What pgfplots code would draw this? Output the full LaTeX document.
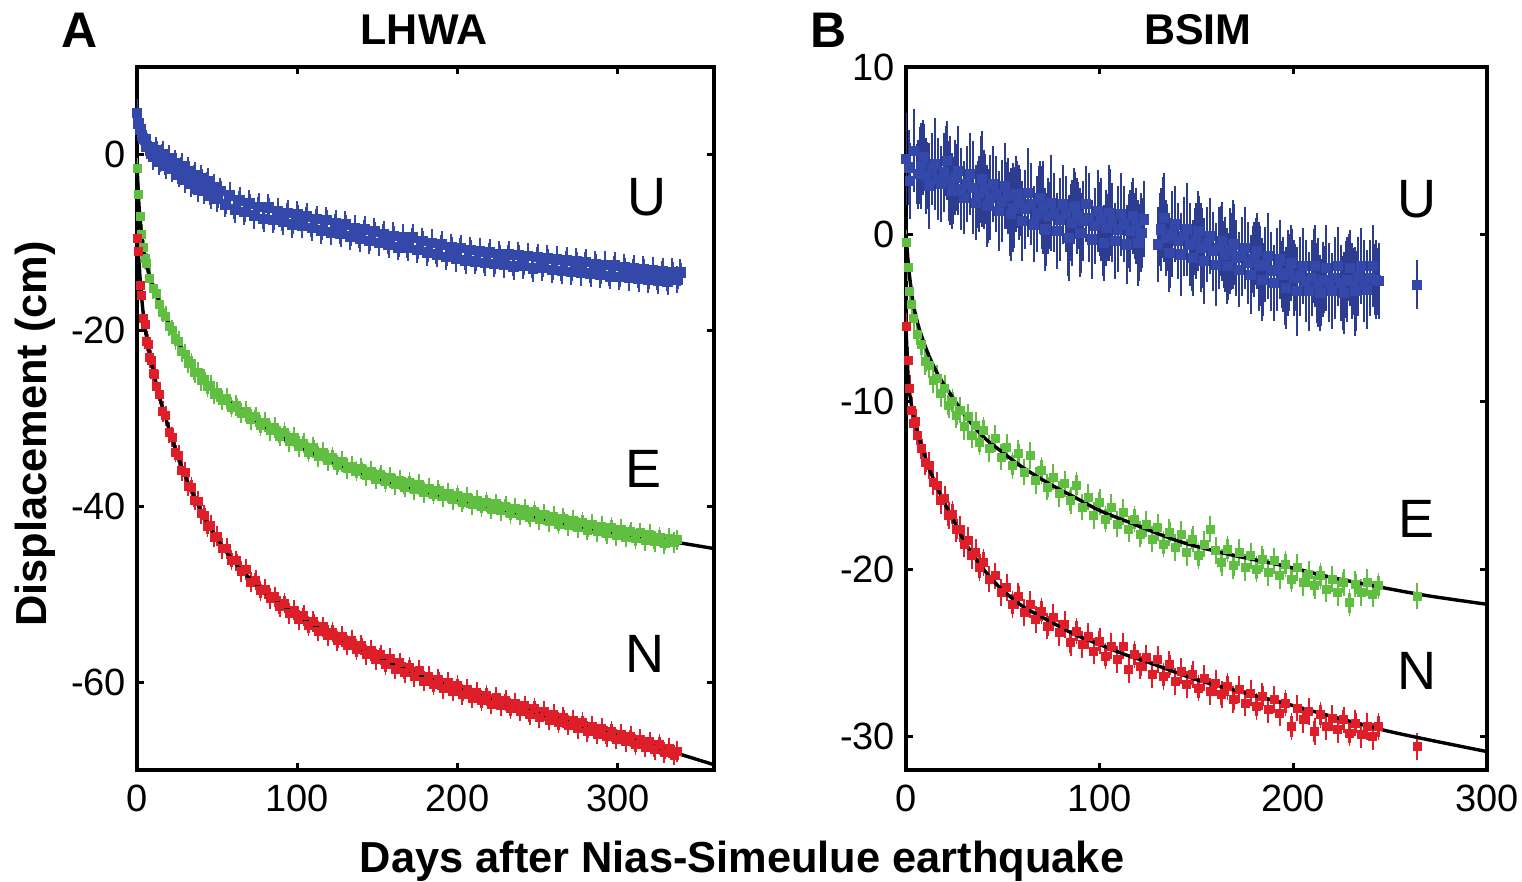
\documentclass[border=0pt]{standalone}
\usepackage{fontspec}
\setmainfont{Liberation Sans}
\usepackage{pgfplots}
\pgfplotsset{compat=1.18}
\usepackage{pgfplotstable}

\definecolor{cU}{RGB}{52,72,170}
\definecolor{cE}{RGB}{96,190,64}
\definecolor{cN}{RGB}{222,30,40}

\pgfplotstableread{
x y
0 4.8
1 3.6
2 2.9
3 2.2
4 1.8
6 1.0
8 0.9
10 -0.2
12 0.5
14 -0.8
16 0.1
18 -1.2
20 -0.4
22 -1.6
24 -0.9
26 -2.2
28 -1.3
30 -2.8
32 -1.8
34 -3.3
36 -2.3
38 -3.9
40 -2.7
42 -4.1
44 -3.0
46 -4.6
48 -3.7
50 -5.0
52 -4.1
55 -5.6
58 -4.6
61 -6.2
64 -5.2
67 -6.5
70 -5.5
73 -6.9
76 -5.9
79 -7.3
82 -6.0
85 -7.4
88 -6.4
91 -7.6
94 -6.6
97 -7.9
100 -6.8
103 -8.0
106 -7.0
109 -8.3
112 -7.3
115 -8.6
118 -7.4
121 -8.8
124 -7.8
127 -9.0
130 -7.9
133 -9.3
136 -8.3
139 -9.5
142 -8.5
145 -9.8
148 -8.7
151 -10.0
154 -9.0
157 -10.2
160 -9.2
163 -10.5
166 -9.4
169 -10.6
172 -9.4
175 -10.8
178 -9.8
181 -11.1
184 -10.0
187 -11.3
190 -10.2
193 -11.6
196 -10.5
199 -11.8
202 -10.6
205 -12.0
208 -10.8
211 -12.1
214 -11.0
217 -12.3
220 -11.1
223 -12.4
226 -11.3
229 -12.5
232 -11.3
235 -12.7
238 -11.4
241 -12.6
244 -11.5
247 -12.9
250 -11.6
253 -12.8
256 -11.8
259 -13.1
262 -11.9
265 -13.2
268 -12.0
271 -13.3
274 -12.1
277 -13.4
280 -12.2
283 -13.5
286 -12.4
289 -13.6
292 -12.5
295 -13.8
298 -12.6
301 -13.9
304 -12.8
307 -14.0
310 -12.9
313 -14.1
316 -13.0
319 -14.2
322 -13.1
325 -14.3
328 -13.2
331 -14.4
334 -13.3
337 -14.2
339 -13.4
}\tabAU

\pgfplotstableread{
x y
0 -1.5
1 -4.5
2 -7.0
3 -9.0
4 -10.5
5 -11.8
6 -12.3
8 -14.0
10 -15.2
12 -15.8
14 -17.0
16 -17.9
18 -18.4
20 -19.5
22 -20.0
24 -21.0
26 -21.2
28 -22.4
30 -22.7
32 -23.7
34 -23.7
36 -24.8
38 -24.7
40 -25.7
42 -25.5
44 -26.4
46 -26.2
48 -27.2
50 -27.0
53 -27.9
56 -27.7
59 -28.7
62 -28.5
65 -29.4
68 -29.2
71 -30.1
74 -29.8
77 -30.8
80 -30.4
83 -31.4
86 -31.0
89 -32.0
92 -31.6
95 -32.6
98 -32.1
101 -33.2
104 -32.8
107 -33.8
110 -33.3
113 -34.3
116 -33.8
119 -34.8
122 -34.4
125 -35.3
128 -34.9
131 -35.7
134 -35.4
137 -36.0
140 -35.7
143 -36.5
146 -36.0
149 -36.9
152 -36.4
155 -37.2
158 -36.7
161 -37.5
164 -37.0
167 -37.8
170 -37.3
173 -38.1
176 -37.5
179 -38.4
182 -37.9
185 -38.6
188 -38.2
191 -38.9
194 -38.5
197 -39.2
200 -38.7
203 -39.5
206 -39.0
209 -39.8
212 -39.3
215 -40.0
218 -39.5
221 -40.3
224 -39.7
227 -40.5
230 -40.0
233 -40.8
236 -40.2
239 -41.0
242 -40.3
245 -41.2
248 -40.6
251 -41.5
254 -40.9
257 -41.7
260 -41.1
263 -42.0
266 -41.4
269 -42.2
272 -41.6
275 -42.4
278 -41.8
281 -42.7
284 -42.0
287 -42.9
290 -42.3
293 -43.1
296 -42.4
299 -43.3
302 -42.6
305 -43.5
308 -42.9
311 -43.7
314 -43.0
317 -43.9
320 -43.2
323 -44.0
326 -43.5
329 -44.2
332 -43.6
335 -44.1
337 -43.8
}\tabAE

\pgfplotstableread{
x y
0 -9.5
1 -11.0
2 -14.8
3 -16.0
4 -18.6
5 -19.3
6 -21.2
7 -21.6
8 -23.1
9 -23.4
10 -24.9
11 -25.0
12 -26.4
14 -27.2
16 -29.2
18 -29.7
20 -31.6
22 -32.1
24 -33.8
26 -34.2
28 -35.9
30 -36.1
32 -37.7
34 -37.8
36 -39.3
38 -39.4
40 -40.8
42 -41.0
44 -42.3
46 -42.2
48 -43.5
50 -43.4
53 -44.8
56 -44.8
59 -46.1
62 -46.2
65 -47.4
68 -47.2
71 -48.6
74 -48.4
77 -49.6
80 -49.4
83 -50.5
86 -50.3
89 -51.4
92 -51.0
95 -52.2
98 -51.8
101 -52.9
104 -52.4
107 -53.6
110 -53.1
113 -54.2
116 -53.7
119 -54.7
122 -54.3
125 -55.3
128 -54.8
131 -55.8
134 -55.2
137 -56.3
140 -55.8
143 -56.9
146 -56.4
149 -57.4
152 -56.9
155 -58.0
158 -57.3
161 -58.5
164 -57.8
167 -58.9
170 -58.3
173 -59.4
176 -58.7
179 -59.9
182 -59.3
185 -60.3
188 -59.7
191 -60.7
194 -60.0
197 -61.0
200 -60.4
203 -61.4
206 -60.8
209 -61.8
212 -61.2
215 -62.1
218 -61.5
221 -62.5
224 -61.7
227 -62.7
230 -62.1
233 -63.0
236 -62.4
239 -63.3
242 -62.7
245 -63.7
248 -63.0
251 -64.0
254 -63.3
257 -64.3
260 -63.7
263 -64.6
266 -64.0
269 -64.9
272 -64.3
275 -65.3
278 -64.6
281 -65.6
284 -65.0
287 -65.9
290 -65.3
293 -66.2
296 -65.6
299 -66.5
302 -65.9
305 -66.8
308 -66.2
311 -67.1
314 -66.5
317 -67.4
320 -66.8
323 -67.7
326 -67.1
329 -68.0
332 -67.5
335 -68.3
337 -67.9
}\tabAN

\pgfplotstableread{
x y e
0 4.5 2.5
2 3.2 2.0
4 5.0 2.2
6 3.6 1.8
9 4.6 2.0
12 2.9 2.3
15 4.2 2.5
18 3.0 2.0
21 4.4 2.1
24 2.6 2.0
27 3.8 2.4
30 2.2 1.9
33 3.6 2.2
36 1.9 2.0
39 3.3 2.6
42 1.7 2.2
45 3.0 2.0
48 1.4 2.1
51 2.9 2.3
54 1.2 2.5
57 2.4 2.0
60 0.8 2.1
63 2.5 2.4
66 0.6 2.0
69 2.2 1.9
72 0.3 2.2
75 1.9 2.6
78 0.2 2.0
81 1.8 2.1
84 -0.2 2.3
87 1.7 2.0
90 0.1 2.4
93 1.8 2.0
96 -0.3 2.1
99 1.4 2.2
102 -0.5 2.0
105 1.3 2.6
108 -0.4 2.0
111 1.2 2.2
114 -0.6 2.1
117 1.1 2.0
120 -0.5 2.3
123 0.9 2.0
130 -0.6 2.0
133 1.0 2.4
136 -1.1 2.1
139 0.6 2.0
142 -1.2 2.2
145 0.3 2.5
148 -1.4 2.0
151 0.2 2.1
154 -1.6 2.3
157 -0.1 2.0
160 -1.8 2.2
163 -0.4 2.1
166 -1.9 2.0
169 -0.6 2.4
172 -2.1 2.0
175 -0.8 2.2
178 -2.4 2.1
181 -1.0 2.0
184 -2.7 2.2
187 -1.3 2.3
190 -2.9 2.0
193 -1.5 2.1
196 -3.2 2.2
199 -1.7 2.0
202 -3.4 2.4
205 -1.9 2.0
208 -3.4 2.1
211 -1.9 2.2
214 -3.5 2.0
217 -2.0 2.3
220 -3.4 2.0
223 -1.9 2.1
226 -3.5 2.2
229 -2.0 2.0
232 -3.4 2.4
235 -1.9 2.0
238 -3.3 2.1
241 -1.9 2.2
244 -2.8 2.0
264 -3.0 1.2
1.5 4.0 2.0
7.5 4.1 2.3
10.5 3.5 2.0
13.5 3.9 1.9
16.5 3.3 2.2
19.5 3.7 2.1
22.5 3.2 2.4
25.5 3.4 2.0
28.5 2.7 2.2
31.5 3.0 2.0
34.5 2.8 2.5
37.5 2.4 2.0
40.5 2.7 2.1
43.5 2.2 2.3
46.5 2.4 2.0
49.5 2.0 2.2
52.5 2.3 2.0
55.5 1.6 2.4
58.5 1.9 2.0
61.5 1.5 2.1
64.5 1.8 2.2
67.5 1.2 2.0
70.5 1.6 2.5
73.5 1.1 2.0
76.5 1.3 2.1
79.5 0.9 2.2
82.5 1.2 2.0
85.5 0.7 2.3
88.5 1.1 2.0
91.5 0.8 2.1
94.5 1.0 2.4
97.5 0.5 2.0
100.5 0.9 2.2
103.5 0.4 2.0
106.5 0.7 2.1
109.5 0.3 2.3
112.5 0.6 2.0
115.5 0.2 2.2
118.5 0.5 2.0
121.5 0.1 2.1
131.5 0.3 2.2
134.5 -0.2 2.0
137.5 0.0 2.3
140.5 -0.4 2.0
143.5 -0.1 2.1
146.5 -0.6 2.2
149.5 -0.4 2.0
152.5 -0.8 2.4
155.5 -0.6 2.0
158.5 -1.0 2.1
161.5 -0.8 2.2
164.5 -1.2 2.0
167.5 -1.0 2.3
170.5 -1.4 2.0
173.5 -1.3 2.1
176.5 -1.7 2.2
179.5 -1.5 2.0
182.5 -1.9 2.4
185.5 -1.8 2.0
188.5 -2.2 2.1
191.5 -2.1 2.2
194.5 -2.4 2.0
197.5 -2.3 2.3
200.5 -2.6 2.0
203.5 -2.5 2.1
206.5 -2.8 2.2
209.5 -2.6 2.0
212.5 -2.9 2.4
215.5 -2.7 2.0
218.5 -2.9 2.1
221.5 -2.6 2.2
224.5 -2.9 2.0
227.5 -2.7 2.3
230.5 -2.8 2.0
233.5 -2.5 2.1
236.5 -2.8 2.2
239.5 -2.6 2.0
242.5 -2.7 2.1
}\tabBU

\pgfplotstableread{
x y
0 -0.5
1 -2.0
2 -3.4
3 -4.2
4 -5.0
6 -6.0
8 -6.6
10 -7.6
12 -7.8
14 -8.7
16 -8.6
18 -9.5
20 -9.2
22 -10.2
24 -10.0
26 -10.8
28 -10.5
30 -11.5
32 -10.9
34 -12.0
36 -11.4
38 -12.4
40 -11.7
43 -12.8
46 -12.2
49 -13.3
52 -12.7
55 -13.8
58 -13.1
61 -14.2
64 -13.2
67 -14.7
70 -14.1
73 -15.1
76 -14.5
79 -15.5
82 -14.9
85 -15.9
88 -15.0
91 -16.3
94 -15.7
97 -16.8
100 -16.0
103 -17.0
106 -16.3
109 -17.3
112 -16.6
115 -17.6
118 -17.0
121 -17.9
124 -17.3
127 -18.2
130 -17.5
133 -18.5
136 -17.8
139 -18.7
142 -17.9
145 -19.0
148 -18.2
151 -19.2
154 -18.5
157 -17.6
160 -18.9
163 -19.6
166 -18.8
169 -19.8
172 -19.0
175 -19.9
178 -19.2
181 -20.0
184 -19.4
187 -20.2
190 -19.5
193 -20.4
196 -19.7
199 -20.6
202 -19.9
205 -20.8
208 -20.3
211 -21.0
214 -20.4
217 -21.2
220 -20.6
223 -21.4
226 -20.8
229 -22.0
232 -20.9
235 -21.4
238 -20.8
241 -21.5
244 -21.0
264 -21.6
}\tabBE

\pgfplotstableread{
x y
0 -5.5
1 -7.5
2 -9.2
3 -10.5
4 -11.3
5 -11.2
6 -12.0
8 -12.8
10 -13.6
12 -13.8
14 -14.8
16 -15.0
18 -15.9
20 -15.8
22 -16.8
24 -16.7
26 -17.6
28 -17.6
30 -18.5
32 -18.3
34 -19.2
36 -19.0
38 -19.9
40 -19.6
43 -20.6
46 -20.4
49 -21.4
52 -21.1
55 -22.1
58 -21.6
61 -22.6
64 -22.1
67 -23.0
70 -22.5
73 -23.4
76 -22.9
79 -23.8
82 -23.3
85 -24.4
88 -23.7
91 -24.5
94 -24.0
97 -24.9
100 -24.3
103 -25.2
106 -24.6
109 -25.4
112 -24.6
115 -26.0
118 -25.1
121 -25.8
124 -25.3
127 -26.3
130 -25.4
133 -26.4
136 -25.7
139 -26.7
142 -26.1
145 -26.9
148 -26.3
151 -27.1
154 -26.5
157 -27.3
160 -26.8
163 -27.5
166 -27.0
169 -27.8
172 -27.2
175 -28.0
178 -27.4
181 -28.2
184 -27.6
187 -28.4
190 -27.8
193 -28.6
196 -28.0
199 -29.4
202 -28.3
205 -29.0
208 -28.5
211 -29.7
214 -28.7
217 -29.4
220 -28.9
223 -29.6
226 -29.0
229 -29.8
232 -29.2
235 -29.9
238 -29.4
241 -30.0
244 -29.4
264 -30.6
}\tabBN

\pgfplotsset{
  panel/.style={
    scale only axis,
    axis line style={line width=2pt},
    tick style={line width=1.5pt, black},
    major tick length=3.5pt,
    tick align=inside,
    xtick pos=both, ytick pos=both,
    xticklabel pos=left, yticklabel pos=left,
    ticklabel style={font=\fontsize{19}{21}\selectfont},
    xticklabel style={yshift=-4pt},
    yticklabel style={xshift=-2pt},
    /pgf/number format/assume math mode=true,
    clip=true,
  },
  pts/.style={only marks, mark=square*, mark size=2.0pt, mark options={draw=#1, fill=#1}, color=#1},
  fit/.style={black, line width=1.7pt, smooth, no marks},
}

\begin{document}
\begin{tikzpicture}
\path[use as bounding box] (0,0) rectangle (761pt,-441pt);

% ---------------- Panel A ----------------
\begin{axis}[panel, at={(68.5pt,-385pt)}, anchor=south west,
  width=288.5pt, height=351.5pt,
  xmin=0, xmax=360, ymin=-70, ymax=10,
  xtick={0,100,200,300}, ytick={-60,-40,-20,0}]
\addplot[pts=cU, mark size=2.4pt, error bars/.cd, y dir=both, y fixed=1.1,
  error bar style={line width=1.4pt, cU}, error mark options={mark size=1.8pt, line width=1.0pt, cU}]
  table[x=x, y=y] {\tabAU};
\addplot[pts=cE, error bars/.cd, y dir=both, y fixed=0.8,
  error bar style={line width=1.2pt, cE}, error mark options={mark size=1.6pt, line width=0.9pt, cE}]
  table[x=x, y=y] {\tabAE};
\addplot[pts=cN, error bars/.cd, y dir=both, y fixed=0.8,
  error bar style={line width=1.2pt, cN}, error mark options={mark size=1.6pt, line width=0.9pt, cN}]
  table[x=x, y=y] {\tabAN};
\addplot[fit] coordinates {(0,-1) (1,-5) (2,-7.5) (4,-10.8) (8,-13.8) (16,-17.6) (25,-21) (33,-23.6) (45,-26.2) (58,-28.2) (75,-30.3) (89,-32) (105,-33.5) (120,-34.8) (150,-36.8) (182,-38.4) (210,-39.6) (246,-41.1) (280,-42.4) (310,-43.3) (337,-44.1) (360,-44.8)};
\addplot[fit] coordinates {(0,-8) (1,-11.5) (2,-14.2) (3,-16.4) (4,-18.2) (6,-20.8) (8,-22.8) (10,-24.5) (12,-26) (15,-28.2) (20,-31.2) (25,-34) (30,-36.5) (35,-38.6) (40,-40.5) (47,-42.8) (55,-45) (64,-47) (75,-49) (85,-50.5) (100,-52.4) (115,-54) (135,-55.8) (163,-58.2) (190,-60.1) (220,-61.9) (246,-63.3) (280,-65.1) (310,-66.6) (337,-68.1) (360,-69.4)};
\node[font=\fontsize{27}{30}\selectfont] at (axis cs:318,-4.8) {U};
\node[font=\fontsize{27}{30}\selectfont] at (axis cs:316,-35.7) {E};
\node[font=\fontsize{27}{30}\selectfont] at (axis cs:317,-56.8) {N};
\end{axis}

% ---------------- Panel B ----------------
\begin{axis}[panel, at={(453pt,-385pt)}, anchor=south west,
  width=290.5pt, height=351.5pt,
  xmin=0, xmax=300, ymin=-32, ymax=10,
  xtick={0,100,200,300}, ytick={-30,-20,-10,0,10}]
\addplot[pts=cU, mark size=2.3pt, error bars/.cd, y dir=both, y explicit,
  error bar style={line width=1.2pt, cU!85!black}, error mark options={mark size=2.2pt, line width=1.0pt, cU!85!black}]
  table[x=x, y=y, y error=e] {\tabBU};
\addplot[pts=cE, error bars/.cd, y dir=both, y fixed=0.6,
  error bar style={line width=1.2pt, cE}, error mark options={mark size=1.6pt, line width=0.9pt, cE}]
  table[x=x, y=y] {\tabBE};
\addplot[pts=cN, error bars/.cd, y dir=both, y fixed=0.6,
  error bar style={line width=1.2pt, cN}, error mark options={mark size=1.6pt, line width=0.9pt, cN}]
  table[x=x, y=y] {\tabBN};
\addplot[fit] coordinates {(0,0) (1,-1.5) (2,-2.65) (4,-4.3) (7,-5.7) (12,-7.3) (17.6,-8.6) (25,-9.9) (31,-10.9) (40,-12.1) (48.5,-12.9) (60,-13.9) (74,-14.9) (87,-15.7) (100,-16.5) (113,-17.1) (126,-17.7) (140,-18.3) (152,-18.7) (170,-19.2) (195,-19.8) (220,-20.5) (246,-21.1) (270,-21.6) (300,-22.1)};
\addplot[fit] coordinates {(0,-5.5) (1,-8.3) (2,-9.6) (4,-10.9) (7.2,-12.3) (12,-14) (17.6,-15.5) (25,-17.2) (31,-18.5) (40,-20) (48.5,-21.1) (60,-22.2) (74,-23.1) (87,-23.9) (100,-24.5) (113,-25.1) (126,-25.6) (150,-26.6) (175,-27.4) (195,-28.0) (220,-28.8) (246,-29.6) (270,-30.2) (300,-30.9)};
\node[font=\fontsize{27}{30}\selectfont] at (axis cs:263.8,2.1) {U};
\node[font=\fontsize{27}{30}\selectfont] at (axis cs:263.8,-17.0) {E};
\node[font=\fontsize{27}{30}\selectfont] at (axis cs:263.8,-26.1) {N};
\end{axis}

% ---------------- Titles and labels ----------------
\node[anchor=base, font=\bfseries\fontsize{25}{28}\selectfont] at (40pt,-24pt) {A};
\node[anchor=base, font=\bfseries\fontsize{21.5}{24}\selectfont] at (212pt,-22.5pt) {LHWA};
\node[anchor=base, font=\bfseries\fontsize{25}{28}\selectfont] at (414.5pt,-24pt) {B};
\node[anchor=base, font=\bfseries\fontsize{21.5}{24}\selectfont] at (599pt,-22.5pt) {BSIM};
\node[rotate=90, font=\bfseries\fontsize{21.7}{24}\selectfont] at (17.5pt,-217pt) {Displacement (cm)};
\node[anchor=base, font=\bfseries\fontsize{21.7}{24}\selectfont] at (371pt,-436pt) {Days after Nias-Simeulue earthquake};
\end{tikzpicture}
\end{document}
